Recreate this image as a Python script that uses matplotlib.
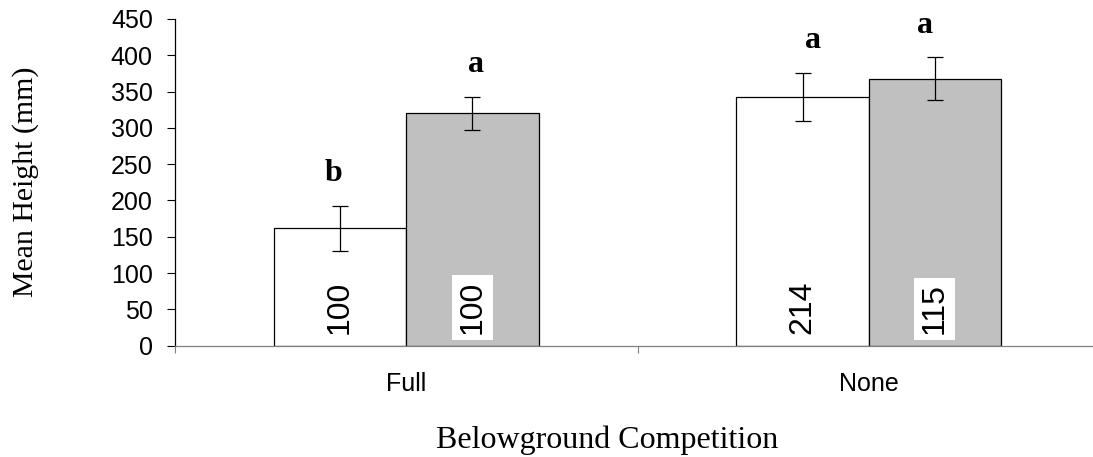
import matplotlib
matplotlib.use("Agg")
import matplotlib.pyplot as plt
import numpy as np

# Mean seedling height by belowground competition treatment
categories = ["Full", "None"]
open_means = [162, 343]
open_err = [31, 33]
shaded_means = [320, 368]
shaded_err = [23, 29]
open_n = ["100", "214"]
shaded_n = ["100", "115"]
open_letters = ["b", "a"]
shaded_letters = ["a", "a"]

SANS = "Liberation Sans"
SERIF = "Liberation Serif"
BAR_W = 0.286
GRAY = "#c0c0c0"
AXIS_GRAY = "#808080"

fig = plt.figure(figsize=(10.93, 4.57), dpi=100)
ax = fig.add_axes([175 / 1093, 1 - 345.7 / 457, 925 / 1093, 326.7 / 457])

x = np.arange(len(categories))
x_open = x - BAR_W / 2
x_shaded = x + BAR_W / 2

ax.bar(x_open, open_means, BAR_W, color="white", edgecolor="black", linewidth=0.9, zorder=2)
ax.bar(x_shaded, shaded_means, BAR_W, color=GRAY, edgecolor="black", linewidth=0.9, zorder=2)

ebar_kw = dict(fmt="none", ecolor="black", elinewidth=0.9, capsize=5.5, capthick=0.9, zorder=3)
ax.errorbar(x_open, open_means, yerr=open_err, **ebar_kw)
ax.errorbar(x_shaded, shaded_means, yerr=shaded_err, **ebar_kw)

# sample sizes written up the bars; shaded bars get a white box behind the number
for xi, n in zip(x_open, open_n):
    ax.text(xi, 16, n, rotation=90, ha="center", va="bottom", fontsize=23,
            family=SANS, zorder=4)
for xi, n in zip(x_shaded, shaded_n):
    ax.text(xi, 16, n, rotation=90, ha="center", va="bottom", fontsize=23,
            family=SANS, zorder=4,
            bbox=dict(facecolor="white", edgecolor="none", pad=4))

# significance letters above the error bars (small nudges in points)
letter_dx = [[-7, 3.5], [10, -10]]
for i in range(len(categories)):
    for j, (xs, m, e, lt) in enumerate([(x_open, open_means, open_err, open_letters),
                                        (x_shaded, shaded_means, shaded_err, shaded_letters)]):
        ax.annotate(lt[i], (xs[i], m[i] + e[i] + 34), xytext=(letter_dx[i][j] * 0.72, 0),
                    textcoords="offset points", ha="center", va="baseline",
                    fontsize=23, fontweight="bold", family=SERIF, zorder=4)

ax.set_xlim(-0.5, len(categories) - 0.5)
ax.set_ylim(0, 450)
ax.set_yticks(np.arange(0, 451, 50))
ax.tick_params(axis="y", direction="out", length=6, width=0.8, color="black",
               labelsize=18, pad=10)
for lbl in ax.get_yticklabels():
    lbl.set_family(SANS)

ax.set_xticks(x)
ax.set_xticklabels(categories, family=SANS, fontsize=18)
ax.tick_params(axis="x", which="major", length=0, pad=19)
ax.set_xticks(np.arange(-0.5, len(categories), 1.0), minor=True)
ax.tick_params(axis="x", which="minor", direction="out", length=5, width=0.8, color=AXIS_GRAY)

for side in ["top", "right"]:
    ax.spines[side].set_visible(False)
ax.spines["left"].set_color("black")
ax.spines["left"].set_linewidth(0.9)
ax.spines["bottom"].set_color(AXIS_GRAY)
ax.spines["bottom"].set_linewidth(0.9)

fig.text(26 / 1093, 1 - 182 / 457, "Mean Height (mm)", rotation=90, ha="center", va="center",
         fontsize=21.5, family=SERIF)
fig.text(607 / 1093, 1 - 448 / 457, "Belowground Competition", ha="center", va="baseline",
         fontsize=23, family=SERIF)

fig.savefig("out.png", dpi=100)
